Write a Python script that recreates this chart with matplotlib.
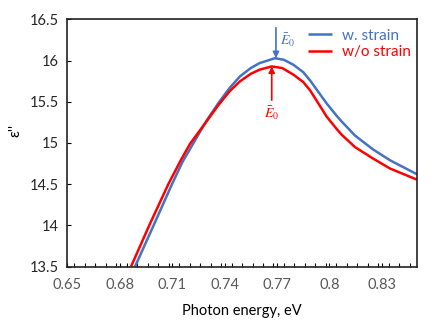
import matplotlib
matplotlib.use("Agg")
from matplotlib import pyplot as plt
import numpy as np
from matplotlib.ticker import MultipleLocator

# curve readings (photon energy eV, epsilon'')
x_strain = [0.6889, 0.6995, 0.710, 0.716, 0.7231, 0.730, 0.737, 0.743, 0.7489, 0.755,
            0.760, 0.7689, 0.774, 0.7794, 0.785, 0.7889, 0.7984, 0.8041, 0.807,
            0.8146, 0.825, 0.8346, 0.85]
y_strain = [13.5, 14.0, 14.5, 14.77, 15.03, 15.28, 15.5, 15.67, 15.81, 15.91,
            15.97, 16.03, 16.01, 15.95, 15.86, 15.76, 15.48, 15.33, 15.26,
            15.09, 14.92, 14.79, 14.62]

x_nostrain = [0.6866, 0.697, 0.7079, 0.715, 0.7203, 0.730, 0.7365, 0.743, 0.7489, 0.755,
              0.760, 0.767, 0.773, 0.7794, 0.785, 0.7889, 0.7984, 0.8041, 0.807,
              0.8146, 0.825, 0.8346, 0.85]
y_nostrain = [13.5, 14.0, 14.5, 14.79, 14.99, 15.27, 15.46, 15.63, 15.75, 15.84,
              15.89, 15.93, 15.91, 15.83, 15.74, 15.64, 15.32, 15.17, 15.10,
              14.95, 14.81, 14.69, 14.555]

xticks = [0.65, 0.68, 0.71, 0.74, 0.77, 0.8, 0.83]
xticklabels = ["0.65", "0.68", "0.71", "0.74", "0.77", "0.8", "0.83"]
yticks = [13.5, 14, 14.5, 15, 15.5, 16, 16.5]
yticklabels = ["13.5", "14", "14.5", "15", "15.5", "16", "16.5"]

blue = "#4472C4"
red = "#FF0000"

plt.rcParams["font.family"] = ["Lato", "DejaVu Sans"]
plt.rcParams["mathtext.fontset"] = "stix"

fig = plt.figure(figsize=(4.36, 3.27), dpi=100)
ax = fig.add_axes([0.1537, 0.185, 0.8027, 0.7554])

ax.plot(x_strain, y_strain, color=blue, lw=1.8, label="w. strain",
        solid_joinstyle="round", solid_capstyle="butt")
ax.plot(x_nostrain, y_nostrain, color=red, lw=1.8, label="w/o strain",
        solid_joinstyle="round", solid_capstyle="butt")

ax.set_xlim(0.65, 0.85)
ax.set_ylim(13.5, 16.5)
ax.set_xticks(xticks)
ax.set_xticklabels(xticklabels)
ax.set_yticks(yticks)
ax.set_yticklabels(yticklabels)
ax.xaxis.set_minor_locator(MultipleLocator(0.006))
ax.tick_params(axis="x", which="both", direction="in", length=3, width=0.8,
               labelsize=10.5, labelcolor="#595959", pad=8, top=False)
ax.tick_params(axis="y", which="both", direction="in", length=3, width=0.8,
               labelsize=10.5, labelcolor="#262626", pad=6, right=False)
for s in ax.spines.values():
    s.set_linewidth(1.2)
    s.set_color("#222222")

ax.set_xlabel("Photon energy, eV", fontsize=10.5, labelpad=9)
fig.text(15 / 436, 1 - 130 / 327, "ε''", fontsize=11, rotation=90,
         ha="center", va="center")

# peak markers
ax.annotate("", xy=(0.7694, 16.03), xytext=(0.7694, 16.4),
            arrowprops=dict(arrowstyle="-|>", color=blue, lw=1.2, mutation_scale=9,
                            shrinkA=0, shrinkB=0))
ax.text(0.772, 16.25, r"$\bar{E}_0$", color=blue, fontsize=10, va="center", ha="left")
ax.annotate("", xy=(0.767, 15.93), xytext=(0.767, 15.52),
            arrowprops=dict(arrowstyle="-|>", color=red, lw=1.2, mutation_scale=9,
                            shrinkA=0, shrinkB=0))
ax.text(0.767, 15.36, r"$\bar{E}_0$", color=red, fontsize=10, va="center", ha="center")

leg = ax.legend(loc="upper right", bbox_to_anchor=(0.99, 0.975), frameon=False,
                fontsize=11, handlelength=1.6, handletextpad=0.6, labelspacing=0.15,
                borderaxespad=0, borderpad=0.2)
for t, c in zip(leg.get_texts(), [blue, red]):
    t.set_color(c)

fig.savefig("out.png", dpi=100)
